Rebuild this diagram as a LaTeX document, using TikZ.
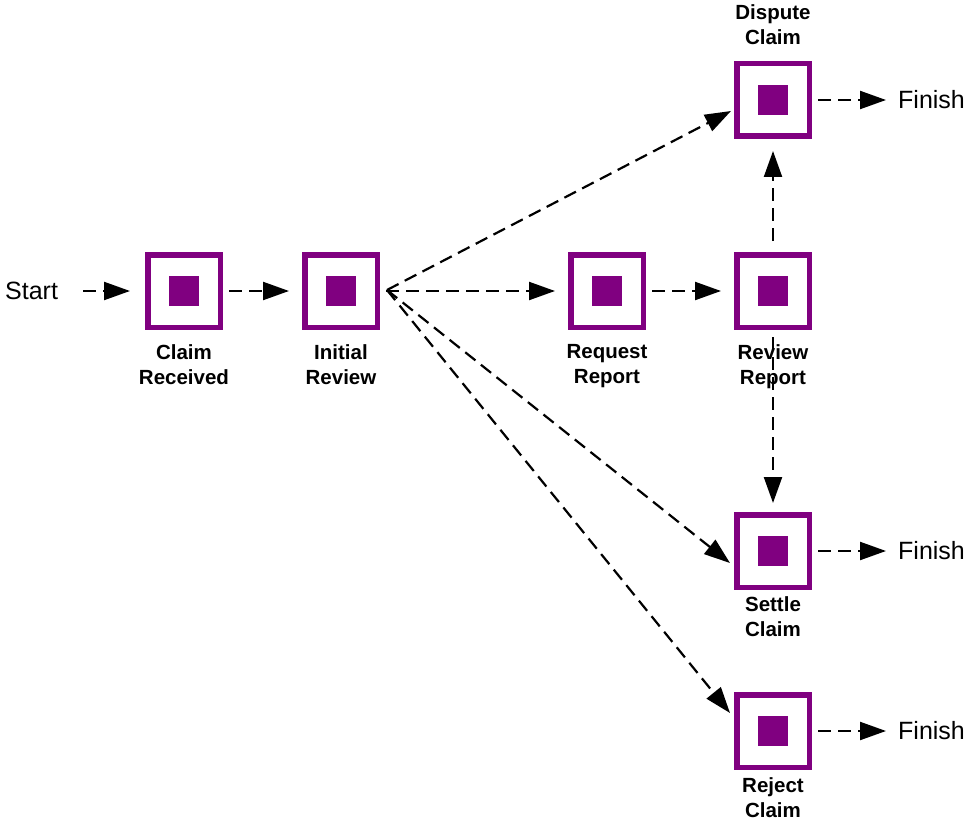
\documentclass[tikz,border=0pt]{standalone}
\usepackage{fontspec}
\setmainfont{Liberation Sans}
\usetikzlibrary{arrows.meta,calc}
\definecolor{plum}{RGB}{128,0,128}
\begin{document}
\begin{tikzpicture}[x=1pt,y=-1pt,
  task/.style={draw=plum, line width=5.5pt, fill=white, minimum size=72.5pt, inner sep=0pt,
    path picture={\fill[plum] ($(path picture bounding box.center)+(-15pt,-15pt)$) rectangle ++(30pt,30pt);}},
  tasklabel/.style={anchor=north, inner sep=0pt, align=center,
    font=\fontsize{20.5}{25}\selectfont\bfseries},
  term/.style={inner sep=0pt, font=\fontsize{25}{30}\selectfont},
  flow/.style={line width=2.2pt, dash pattern=on 13pt off 7pt,
    -{Triangle[length=26pt,width=18pt]}, shorten <=6pt, shorten >=13pt}]
\useasboundingbox (0,0) rectangle (969,821);

% activity boxes
\node[task] (claim)   at (184,291) {};
\node[task] (initial) at (341,291) {};
\node[task] (request) at (607,291) {};
\node[task] (review)  at (773,291) {};
\node[task] (dispute) at (773,100) {};
\node[task] (settle)  at (773,551) {};
\node[task] (reject)  at (773,731) {};

% activity names
\node[tasklabel] (lclaim)   at (184,344) {Claim\\Received};
\node[tasklabel] (linitial) at (341,344) {Initial\\Review};
\node[tasklabel] (lrequest) at (607,344) {Request\\Report};
\node[tasklabel] (lreview)  at (773,344) {Review\\Report};
\node[tasklabel] (ldispute) at (773,4)   {Dispute\\Claim};
\node[tasklabel] (lsettle)  at (773,596) {Settle\\Claim};
\node[tasklabel] (lreject)  at (773,777) {Reject\\Claim};

% start and end markers
\node[term, anchor=west] (start)   at (5,291)   {Start};
\node[term, anchor=west] (finish1) at (898,100) {Finish};
\node[term, anchor=west] (finish2) at (898,551) {Finish};
\node[term, anchor=west] (finish3) at (898,731) {Finish};

% branching point to the right of the initial review
\coordinate (fan) at ($(initial.east)+(7,-1)$);
\coordinate (tdispute) at ($(dispute.west)+(-3,11)$);
\coordinate (tsettle)  at ($(settle.west)+(-4,12)$);
\coordinate (treject)  at ($(reject.west)+(-4,-18)$);

% connectors
\draw[flow, shorten <=25pt, shorten >=15pt] (start.east) -- (claim.west);
\draw[flow] (claim) -- (initial);
\draw[flow] (initial) -- (request);
\draw[flow] (request) -- (review);
\draw[flow, shorten <=0pt, shorten >=0pt] (fan) -- (tdispute);
\draw[flow, shorten <=0pt, shorten >=0pt] (fan) -- (tsettle);
\draw[flow, shorten <=0pt, shorten >=0pt] (fan) -- (treject);
\draw[flow, shorten <=11pt, shorten >=12pt] (review) -- (dispute);
\draw[flow, shorten <=7pt, shorten >=9pt] (review) -- (settle);
\draw[flow, shorten >=12pt] (dispute.east) -- (finish1.west);
\draw[flow, shorten >=12pt] (settle.east) -- (finish2.west);
\draw[flow, shorten >=12pt] (reject.east) -- (finish3.west);
\end{tikzpicture}
\end{document}
